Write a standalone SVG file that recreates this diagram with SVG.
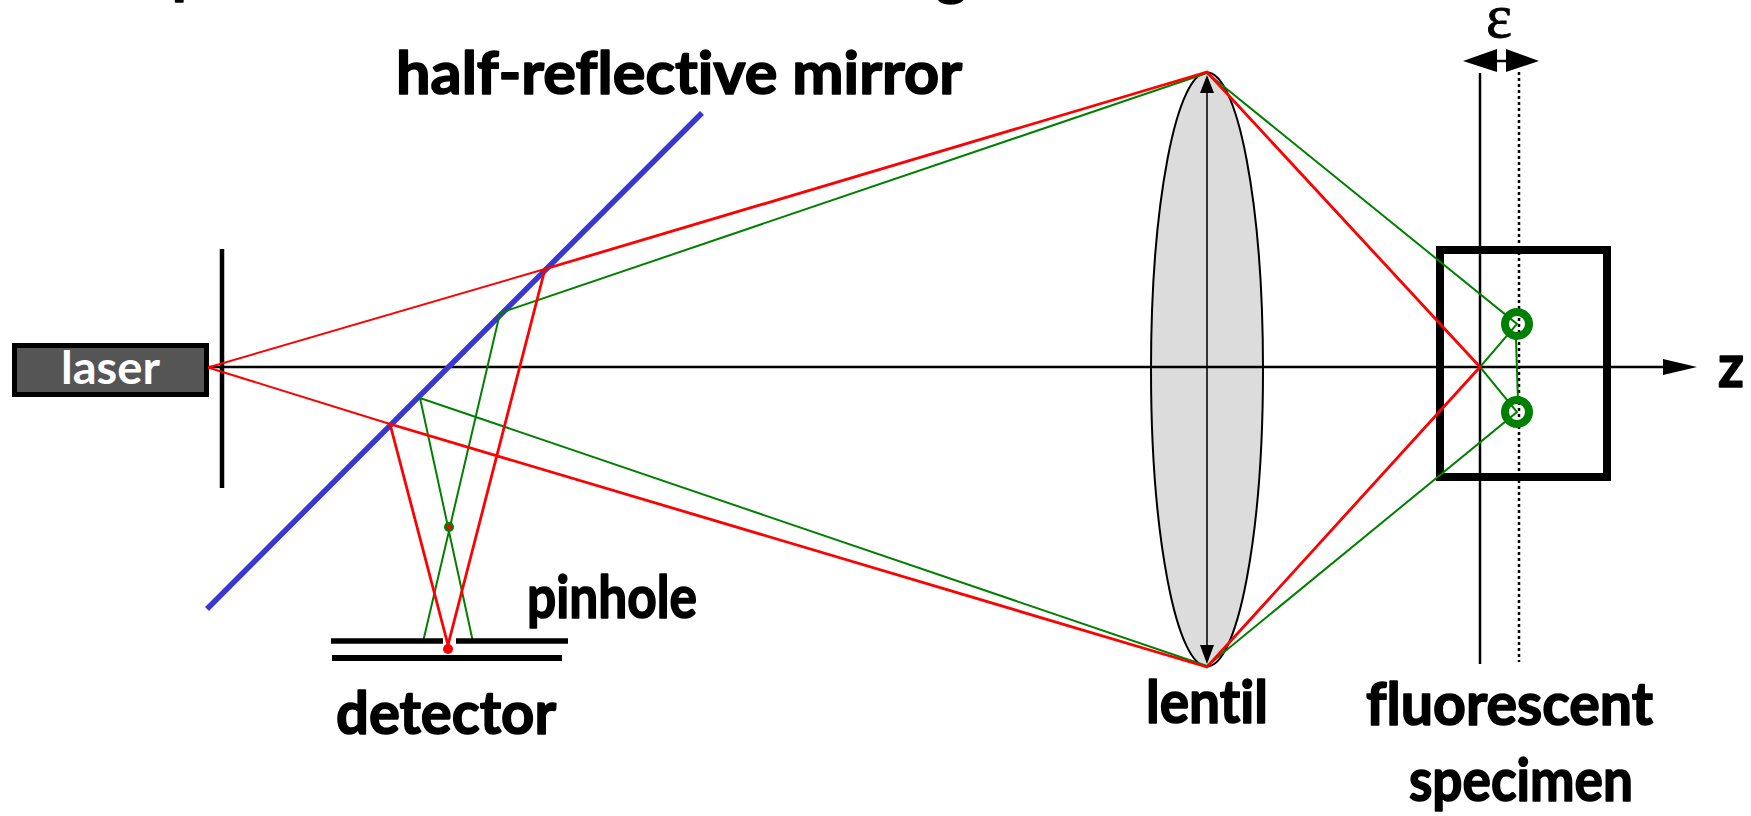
<svg xmlns="http://www.w3.org/2000/svg" width="1751" height="816" viewBox="0 0 1751 816">
<style>
.t{font-family:"Lato","Open Sans",sans-serif;font-weight:700;font-size:59px;font-variant-ligatures:none;fill:#000;stroke:#000;stroke-width:1.6;stroke-linejoin:round;text-anchor:start}
.r1{stroke:#f00;stroke-width:2;fill:none}
.r2{stroke:#f00;stroke-width:2.8;fill:none;stroke-linejoin:round}
.g{stroke:#008000;stroke-width:2;fill:none}
.k{stroke:#000;fill:none}
</style>
<rect width="1751" height="816" fill="#fff"/>
<g id="top-descenders"><text class="t" x="172" y="-8">p</text><text class="t" x="936" y="-7">g</text></g>
<g id="lens"><ellipse cx="1207" cy="369.5" rx="56" ry="297" fill="#dcdcdc" stroke="#000" stroke-width="2"/>
<path d="M1207 92V646" stroke="#333" stroke-width="2" fill="none"/>
<path d="M1207 75L1200 93H1214Z M1207 664L1200 645H1214Z" fill="#000"/></g>
<g id="axis"><path class="k" stroke-width="2.5" d="M182 367H1665"/><path d="M1697 367L1663 359V375Z" fill="#000"/></g>
<g id="stop"><path class="k" stroke-width="4.5" d="M222 249V488"/></g>
<g id="mirror"><path d="M702 113L207 609" stroke="#3838d0" stroke-width="5.5" fill="none"/></g>
<g id="laser"><rect x="14.5" y="345.5" width="192" height="49" fill="#555" stroke="#000" stroke-width="5"/>
<text x="61" y="384" font-family="Lato,sans-serif" font-weight="700" font-size="45" fill="#fff" textLength="99" lengthAdjust="spacingAndGlyphs">laser</text></g>
<g id="specimen"><rect x="1440" y="250" width="167" height="227" fill="none" stroke="#000" stroke-width="8"/></g>
<g id="planes"><path class="k" stroke-width="2.5" d="M1480 73V664"/><path class="k" stroke-width="2.5" stroke-dasharray="3 3" d="M1519 72V662"/></g>
<g id="connectors">
<path class="g" d="M1207 73L500 313L423 642"/>
<path class="g" d="M1207 666L420 398L473 642"/>
<path class="g" d="M1207 73L1517 324L1480 367L1517 412L1207 666"/>
<path class="g" d="M1516 340L1518 402"/>
<path class="r1" d="M208 367.5L545 269"/>
<path class="r1" d="M208 367.5L390 424"/>
<path class="r2" d="M545 269L1207 72L1480 367L1207 667L390 424L448 645L545 269"/>
</g>
<g id="fluorophores"><circle cx="1517" cy="324" r="12" fill="none" stroke="#008000" stroke-width="8"/><circle cx="1517" cy="412" r="12" fill="none" stroke="#008000" stroke-width="8"/></g>
<g id="pinhole"><path class="k" stroke-width="5.5" d="M331 641H443M456 641H568"/><text class="t" x="527" y="618" textLength="170" lengthAdjust="spacingAndGlyphs">pinhole</text></g>
<g id="detector"><path class="k" stroke-width="6" d="M332 658H562"/><circle cx="448" cy="649" r="5" fill="#f00"/><text class="t" x="336" y="734" textLength="220" lengthAdjust="spacingAndGlyphs">detector</text></g>
<g id="focus"><circle cx="449" cy="527" r="5" fill="#008000"/><circle cx="449" cy="527" r="2.5" fill="#f00"/></g>
<g id="labels">
<text class="t" x="396" y="94" textLength="566" lengthAdjust="spacingAndGlyphs">half-reflective mirror</text>
<text class="t" x="1146" y="723" textLength="122" lengthAdjust="spacingAndGlyphs">lentil</text>
<text class="t" x="1366" y="725" textLength="287" lengthAdjust="spacingAndGlyphs">fluorescent</text>
<text class="t" x="1409" y="801" textLength="224" lengthAdjust="spacingAndGlyphs">specimen</text>
<text class="t" x="1718" y="387" textLength="26" lengthAdjust="spacingAndGlyphs">z</text>
<text x="1486" y="37" font-family="Liberation Serif,serif" font-size="62" textLength="26" lengthAdjust="spacingAndGlyphs" stroke="#000" stroke-width="0.8">ε</text>
</g>
<g id="epsilon-arrow"><path class="k" stroke-width="2.5" d="M1497 61H1506"/><path d="M1463 61L1497 49V72Z M1539 61L1506 49V72Z" fill="#000"/></g>
</svg>
